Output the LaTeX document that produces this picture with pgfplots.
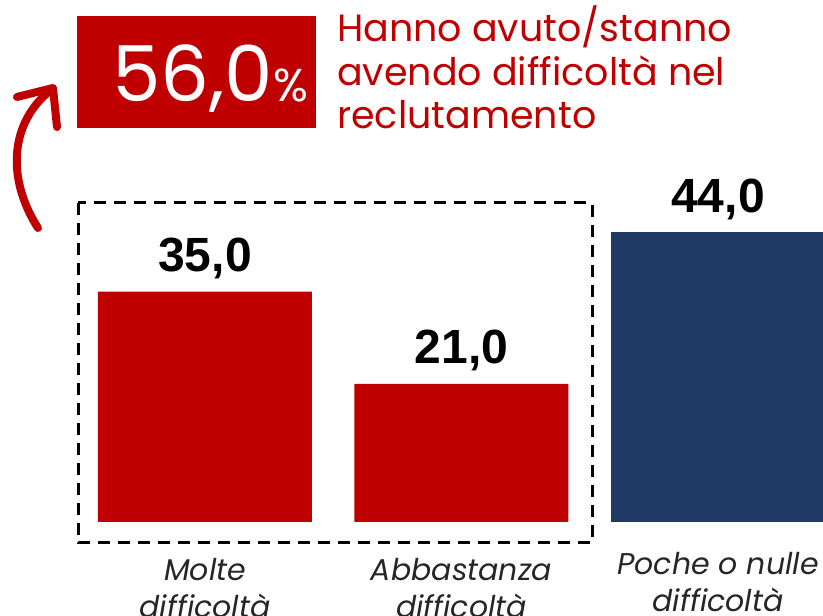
\documentclass[border=0pt]{standalone}
\usepackage{pgfplots}
\pgfplotsset{compat=1.18}
\usepackage{fontspec}
\setmainfont{Poppins}
\newfontfamily\valfont{Liberation Sans}
\definecolor{myred}{HTML}{C00000}
\definecolor{mynavy}{HTML}{203864}
\begin{document}
\begin{tikzpicture}[x=1pt,y=1pt]
\useasboundingbox (0,0) rectangle (823,616);
\clip (0,0) rectangle (823,616);
\begin{axis}[at={(0pt,94pt)}, anchor=south west, scale only axis,
  width=823pt, height=522pt,
  xmin=-0.7992, xmax=2.4094, ymin=0, ymax=79.33,
  axis line style={draw=none}, ytick=\empty, xtick={0,1}, major tick length=0pt,
  xticklabels={{Molte\\difficoltà},{Abbastanza\\difficoltà}},
  extra x ticks={2}, extra x tick labels={{Poche o nulle\\difficoltà}},
  extra x tick style={xticklabel style={yshift=6pt}},
  xticklabel style={font=\itshape\fontsize{30}{37}\selectfont, align=center, text=black!85, yshift=-33pt},
  ybar, bar width=214pt, bar shift=0pt,
  nodes near coords={\pgfmathprintnumber[fixed,fixed zerofill,precision=1,use comma,assume math mode=true]{\pgfplotspointmeta}},
  every node near coord/.append style={font=\valfont\bfseries\fontsize{48}{48}\selectfont, anchor=base, yshift=20pt, text=black},
  clip=false]
\addplot[fill=myred, draw=none] coordinates {(0,35) (1,21)};
\addplot[fill=mynavy, draw=none] coordinates {(2,44)};
\end{axis}
\begin{scope}[yshift=616pt, y=-1pt]
  \draw[black, line width=3pt, dash pattern=on 12pt off 8pt] (78,203) rectangle (592,543);
  \fill[myred] (77,16) rectangle (316,128);
  \node[anchor=base west, inner sep=0pt, text=white] at (112,102)
    {{\fontsize{77}{77}\selectfont 56,0}{\fontsize{46}{46}\selectfont\%}};
  \node[anchor=base west, inner sep=0pt, text=myred, font=\fontsize{38}{43}\selectfont] at (337,42) {Hanno avuto/stanno};
  \node[anchor=base west, inner sep=0pt, text=myred, font=\fontsize{38}{43}\selectfont] at (337,86) {avendo difficoltà nel};
  \node[anchor=base west, inner sep=0pt, text=myred, font=\fontsize{38}{43}\selectfont] at (337,129) {reclutamento};
  \draw[myred, line width=8pt, line cap=round] (38,228) .. controls (6,178) and (10,122) .. (51,90);
  \draw[myred, line width=8pt, line cap=round, line join=round] (17,97) -- (53,88) -- (57,127);
\end{scope}
\end{tikzpicture}
\end{document}
